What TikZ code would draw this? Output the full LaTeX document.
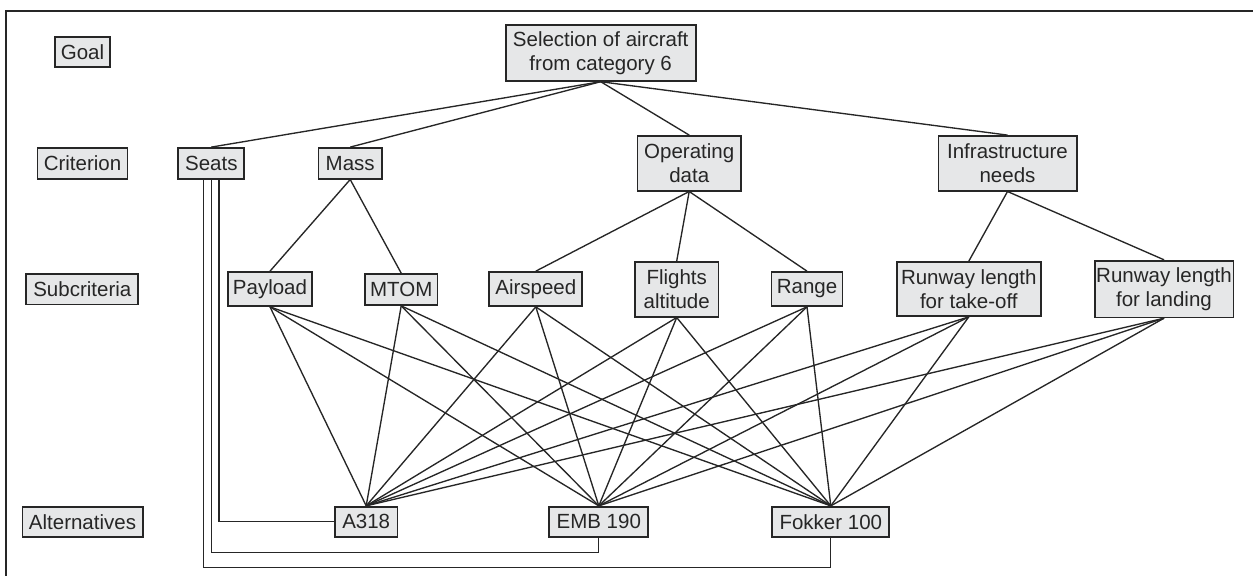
\documentclass[tikz,border=0pt]{standalone}
\usepackage{fontspec}
\setmainfont{Liberation Sans}
\usetikzlibrary{calc}
\definecolor{boxfill}{HTML}{E6E7E8}
\definecolor{ink}{HTML}{262626}
\begin{document}
\begin{tikzpicture}[x=1pt,y=-1pt,
  box/.style={draw=ink,fill=boxfill,line width=1.7pt,inner sep=0pt,align=center,
    text=ink,font=\fontsize{20.5}{24}\selectfont},
  wire/.style={draw=ink,line width=1.35pt},
  frameline/.style={draw=ink,line width=1.8pt}]
\useasboundingbox (0,0) rectangle (1253,576);
\coordinate (ftr) at (1253,10.7);
\coordinate (ftl) at (6.3,10.7);
\coordinate (fbl) at (6.3,576);
\draw[frameline] (ftr) -- (ftl) -- (fbl);
% level labels
\node[box,minimum width=55,minimum height=30] (goal) at (82.5,51.7) {Goal};
\node[box,minimum width=90,minimum height=30.7] (crit) at (82.5,163.3) {Criterion};
\node[box,minimum width=112,minimum height=30.7] (subc) at (82.3,289) {Subcriteria};
\node[box,minimum width=120.3,minimum height=30] (alts) at (82.5,521.7) {Alternatives};
% goal
\node[box,minimum width=190,minimum height=55.7] (sel) at (600.7,53) {Selection of aircraft\\from category 6};
% criteria
\node[box,minimum width=66,minimum height=30.7] (seats) at (211.3,163.3) {Seats};
\node[box,minimum width=63.7,minimum height=30.7] (mass) at (350.2,163.3) {Mass};
\node[box,minimum width=103.7,minimum height=54.7] (oper) at (689.2,163.3) {Operating\\data};
\node[box,minimum width=138.3,minimum height=54.7] (infra) at (1007.5,163.3) {Infrastructure\\needs};
% subcriteria
\node[box,minimum width=84.6,minimum height=34] (pay) at (270,289) {Payload};
\node[box,minimum width=72.3,minimum height=31] (mtom) at (401.2,289.5) {MTOM};
\node[box,minimum width=93,minimum height=34] (air) at (535.8,289) {Airspeed};
\node[box,minimum width=83.3,minimum height=54.7] (fli) at (676.7,289.3) {Flights\\altitude};
\node[box,minimum width=71,minimum height=34] (rng) at (807,289) {Range};
\node[box,minimum width=144.3,minimum height=54] (rto) at (968.8,289) {Runway length\\for take-off};
\node[box,minimum width=138.7,minimum height=56.7] (rld) at (1164,289) {Runway length\\for landing};
% alternatives
\node[box,minimum width=62.3,minimum height=30] (a318) at (366.2,521.7) {A318};
\node[box,minimum width=99,minimum height=30] (emb) at (598.8,521.7) {EMB 190};
\node[box,minimum width=117,minimum height=30] (fok) at (830.8,521.7) {Fokker 100};
% goal to criteria
\foreach \c in {seats,mass,oper,infra} \draw[wire] (sel.south) -- (\c.north);
% criteria to subcriteria
\foreach \s in {pay,mtom} \draw[wire] (mass.south) -- (\s.north);
\foreach \s in {air,fli,rng} \draw[wire] (oper.south) -- (\s.north);
\foreach \s in {rto,rld} \draw[wire] (infra.south) -- (\s.north);
% subcriteria to alternatives
\foreach \s in {pay,mtom,air,fli,rng,rto,rld}
  \foreach \a in {a318,emb,fok}
    \draw[wire] (\s.south) -- (\a.north);
% seats directly to alternatives
\draw[wire] ($(seats.south)+(7.7,0)$) |- (a318.west);
\draw[wire] (seats.south) |- ($(emb.south)+(0,15)$) -- (emb.south);
\draw[wire] ($(seats.south)+(-7.6,0)$) |- ($(fok.south)+(0,30)$) -- (fok.south);
\end{tikzpicture}
\end{document}
